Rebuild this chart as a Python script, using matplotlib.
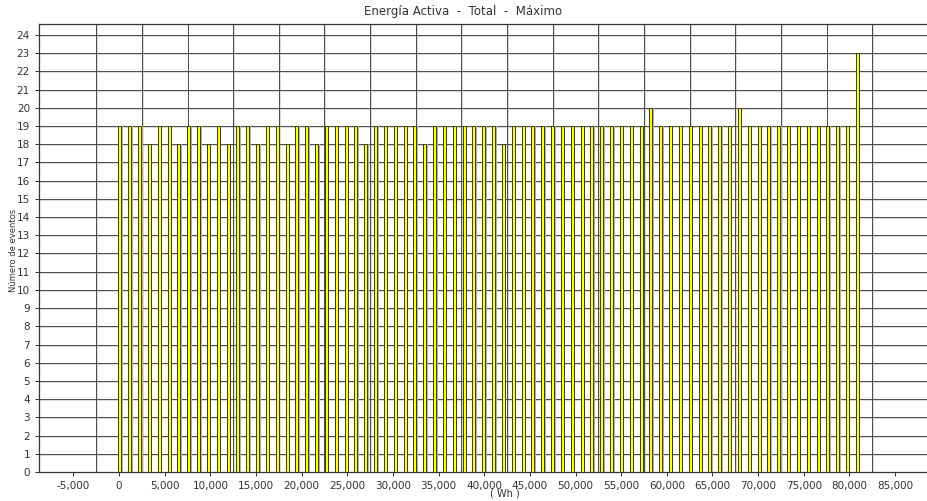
import numpy as np
import matplotlib.pyplot as plt
from matplotlib.ticker import FuncFormatter, MultipleLocator

# histogram bins (Wh)
bin_start = 100
bin_width = 1077

# number of events per bin
counts = [
    19, 19, 19, 18, 19, 19, 18, 19, 19, 18, 19, 18, 19, 19, 18, 19,
    19, 18, 19, 19, 18, 19, 19, 19, 19, 18, 19, 19, 19, 19, 19,
    18, 19, 19, 19, 19, 19, 19, 19, 18, 19, 19, 19, 19, 19, 19,
    19, 19, 19, 19, 19, 19, 19, 19, 20, 19, 19, 19, 19, 19, 19,
    19, 19, 20, 19, 19, 19, 19, 19, 19, 19, 19, 19, 19, 19, 23,
]

x_ticks = list(range(-5000, 85001, 5000))
x_grid = list(range(-2500, 82501, 5000))

x = bin_start + bin_width * np.arange(len(counts))

fig = plt.figure(figsize=(9.27, 5.01), dpi=100)
ax = fig.add_axes([39 / 927, 29 / 501, 888 / 927, 448 / 501])

ax.set_xlim(-8770, 88500)
ax.set_ylim(0, 24.6)

# grid lines (dark line with a light shadow underneath)
for yv in range(1, 25):
    ax.axhline(yv - 0.055, color="#dadada", lw=0.7, zorder=0)
    ax.axhline(yv, color="#4a4a4a", lw=0.7, zorder=1)
for xv in x_grid:
    ax.axvline(xv + 100, color="#dadada", lw=0.7, zorder=0)
    ax.axvline(xv, color="#4a4a4a", lw=0.7, zorder=1)

# bar shadows then bars
ax.bar(x + 140, counts, width=360, color="#b0b0b0", lw=0, zorder=2)
ax.bar(x, counts, width=330, color="#ffff00", edgecolor="#3a3a00", lw=0.7, zorder=3)

ax.xaxis.set_major_locator(plt.FixedLocator(x_ticks))
ax.xaxis.set_major_formatter(FuncFormatter(lambda v, p: f"{int(v):,}"))
ax.yaxis.set_major_locator(MultipleLocator(1))
ax.tick_params(axis="both", labelsize=7.5, colors="#333333", length=3, width=0.7)

for s in ["left", "bottom", "top"]:
    ax.spines[s].set_color("#333333")
    ax.spines[s].set_linewidth(0.9)
ax.spines["right"].set_visible(False)

fig.text(0.5, 0.977, "Energía Activa  -  Total  -  Máximo", ha="center", va="center",
         fontsize=8.5, color="#333333")
fig.text(14 / 927, 0.5, "Número de eventos", rotation=90, ha="center", va="center",
         fontsize=6, color="#333333")
fig.text(0.545, 0.015, "( Wh )", ha="center", va="center", fontsize=7, color="#333333")

fig.savefig("out.png", dpi=100)
